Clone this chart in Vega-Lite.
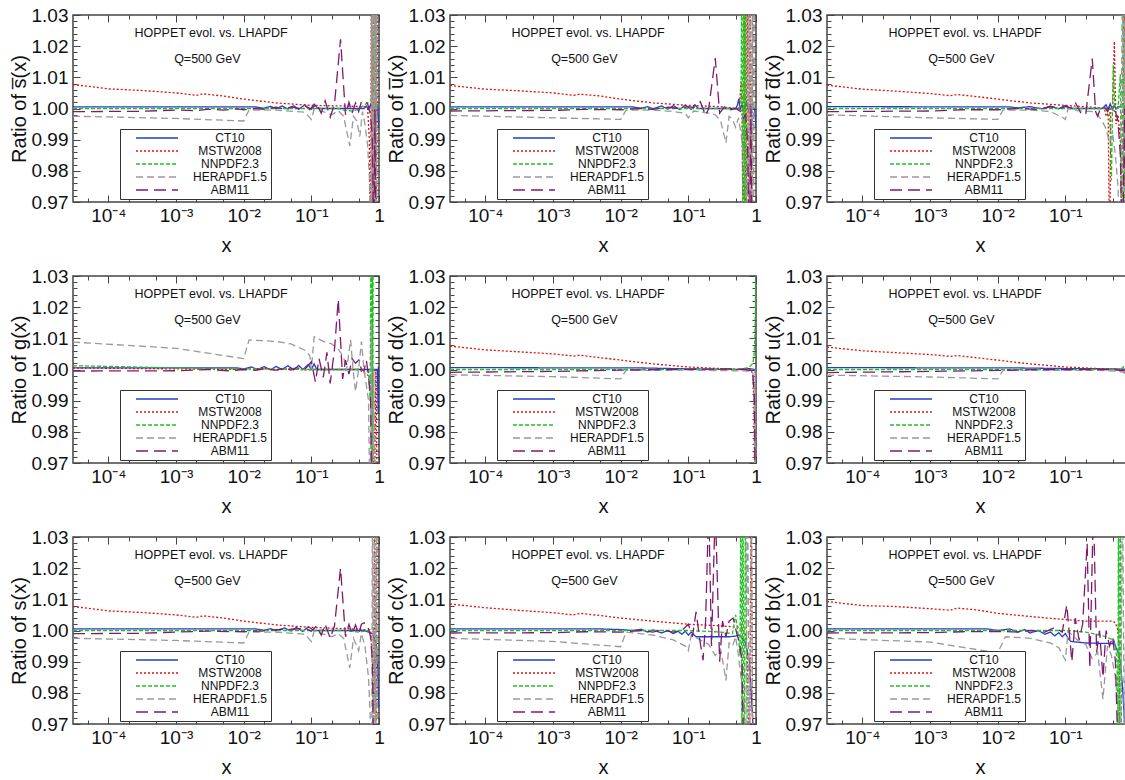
{
"$schema":"https://vega.github.io/schema/vega-lite/v6.json",
"padding":{"left":8,"top":5,"right":0,"bottom":0},
"columns":3,
"spacing":{"row":74,"column":71},
"bounds":"flush",
"resolve":{"scale":{"x":"independent","y":"independent","color":"independent","strokeDash":"independent","strokeWidth":"independent"},"axis":{"x":"independent","y":"independent"},"legend":{"color":"independent","strokeDash":"independent"}},
"datasets":{
"sb":[
{"s":"C","x":3e-5,"y":1.0005},{"s":"C","x":0.015,"y":1.0005},{"s":"C","x":0.02,"y":1.0001},{"s":"C","x":0.025,"y":1.0007},{"s":"C","x":0.03,"y":0.9999},{"s":"C","x":0.037,"y":1.0008},{"s":"C","x":0.045,"y":0.9998},{"s":"C","x":0.055,"y":1.0009},{"s":"C","x":0.065,"y":0.9997},{"s":"C","x":0.08,"y":1.0012},{"s":"C","x":0.095,"y":0.9996},{"s":"C","x":0.11,"y":1.0014},{"s":"C","x":0.125,"y":1.0},{"s":"C","x":0.6,"y":1.0},{"s":"C","x":0.65,"y":1.0008},{"s":"C","x":0.7,"y":0.9997},{"s":"C","x":0.75,"y":1.0012},{"s":"C","x":0.8,"y":0.9998},{"s":"C","x":0.85,"y":1.001},{"s":"C","x":0.9,"y":0.9995},{"s":"C","x":0.93,"y":1.0015},{"s":"C","x":0.96,"y":1.0},{"s":"C","x":0.98,"y":0.996},{"s":"C","x":1,"y":0.994},
{"s":"M","x":3e-5,"y":1.0077},{"s":"M","x":1e-4,"y":1.0063},{"s":"M","x":3e-4,"y":1.0058},{"s":"M","x":1e-3,"y":1.005},{"s":"M","x":2e-3,"y":1.0042},{"s":"M","x":2.5e-3,"y":1.0047},{"s":"M","x":5e-3,"y":1.004},{"s":"M","x":0.01,"y":1.003},{"s":"M","x":0.03,"y":1.0018},{"s":"M","x":0.1,"y":1.001},{"s":"M","x":0.3,"y":1.0008},{"s":"M","x":0.6,"y":1.0006},{"s":"M","x":0.68,"y":1.0},{"s":"M","x":0.72,"y":0.99},{"s":"M","x":0.75,"y":0.95},{"s":"M","x":0.77,"y":1.05},{"s":"M","x":0.8,"y":0.95},{"s":"M","x":0.83,"y":1.05},{"s":"M","x":0.86,"y":0.95},{"s":"M","x":0.89,"y":1.05},{"s":"M","x":0.92,"y":0.95},{"s":"M","x":0.95,"y":1.05},
{"s":"N","x":3e-5,"y":1.0},{"s":"N","x":0.25,"y":1.0},{"s":"N","x":0.3,"y":0.9995},{"s":"N","x":0.4,"y":0.9992},{"s":"N","x":0.5,"y":0.9998},{"s":"N","x":0.6,"y":1.001},{"s":"N","x":0.7,"y":1.002},{"s":"N","x":0.75,"y":1.0025},{"s":"N","x":0.8,"y":1.005},{"s":"N","x":0.83,"y":1.05},{"s":"N","x":0.86,"y":0.95},{"s":"N","x":0.9,"y":1.05},
{"s":"H","x":3e-5,"y":0.9975},{"s":"H","x":1e-4,"y":0.9973},{"s":"H","x":1e-3,"y":0.9968},{"s":"H","x":0.01,"y":0.996},{"s":"H","x":0.012,"y":0.9995},{"s":"H","x":0.03,"y":0.9995},{"s":"H","x":0.08,"y":0.9988},{"s":"H","x":0.1,"y":0.9965},{"s":"H","x":0.11,"y":0.9998},{"s":"H","x":0.15,"y":0.999},{"s":"H","x":0.2,"y":0.998},{"s":"H","x":0.25,"y":0.9993},{"s":"H","x":0.3,"y":0.9975},{"s":"H","x":0.37,"y":0.988},{"s":"H","x":0.42,"y":0.9975},{"s":"H","x":0.47,"y":0.996},{"s":"H","x":0.52,"y":0.991},{"s":"H","x":0.57,"y":0.999},{"s":"H","x":0.62,"y":0.995},{"s":"H","x":0.68,"y":0.988},{"s":"H","x":0.72,"y":0.978},{"s":"H","x":0.76,"y":0.95},{"s":"H","x":0.78,"y":1.05},{"s":"H","x":0.8,"y":0.95},{"s":"H","x":0.82,"y":1.05},{"s":"H","x":0.84,"y":0.95},{"s":"H","x":0.86,"y":1.05},{"s":"H","x":0.88,"y":0.95},{"s":"H","x":0.9,"y":1.05},{"s":"H","x":0.92,"y":0.95},{"s":"H","x":0.94,"y":1.05},
{"s":"A","x":3e-5,"y":0.999},{"s":"A","x":3e-4,"y":0.9991},{"s":"A","x":1e-3,"y":0.9995},{"s":"A","x":2e-3,"y":0.9993},{"s":"A","x":3e-3,"y":0.9998},{"s":"A","x":5e-3,"y":0.9995},{"s":"A","x":8e-3,"y":0.9999},{"s":"A","x":0.01,"y":0.9996},{"s":"A","x":0.015,"y":1.0},{"s":"A","x":0.02,"y":0.9997},{"s":"A","x":0.03,"y":1.0004},{"s":"A","x":0.04,"y":0.9998},{"s":"A","x":0.05,"y":1.0005},{"s":"A","x":0.065,"y":1.0},{"s":"A","x":0.08,"y":1.0008},{"s":"A","x":0.1,"y":0.9998},{"s":"A","x":0.12,"y":1.0015},{"s":"A","x":0.14,"y":0.9985},{"s":"A","x":0.16,"y":1.0025},{"s":"A","x":0.19,"y":0.9972},{"s":"A","x":0.22,"y":1.0015},{"s":"A","x":0.27,"y":1.0222},{"s":"A","x":0.32,"y":0.998},{"s":"A","x":0.36,"y":1.002},{"s":"A","x":0.4,"y":0.9985},{"s":"A","x":0.45,"y":1.0018},{"s":"A","x":0.5,"y":0.999},{"s":"A","x":0.55,"y":1.0022},{"s":"A","x":0.6,"y":1.0025},{"s":"A","x":0.68,"y":1.0015},{"s":"A","x":0.75,"y":0.998},{"s":"A","x":0.8,"y":0.99},{"s":"A","x":0.84,"y":0.95},{"s":"A","x":0.87,"y":1.0},{"s":"A","x":0.9,"y":0.95}
],
"ub":[
{"s":"C","x":3e-5,"y":1.0005},{"s":"C","x":0.015,"y":1.0005},{"s":"C","x":0.02,"y":1.0001},{"s":"C","x":0.025,"y":1.0006},{"s":"C","x":0.03,"y":0.9999},{"s":"C","x":0.04,"y":1.0008},{"s":"C","x":0.05,"y":0.9998},{"s":"C","x":0.06,"y":1.0009},{"s":"C","x":0.075,"y":0.9997},{"s":"C","x":0.09,"y":1.0011},{"s":"C","x":0.11,"y":0.9997},{"s":"C","x":0.125,"y":1.0012},{"s":"C","x":0.14,"y":1.0},{"s":"C","x":0.5,"y":1.0},{"s":"C","x":0.53,"y":1.001},{"s":"C","x":0.56,"y":1.0032},{"s":"C","x":0.58,"y":0.9995},{"s":"C","x":0.62,"y":1.0012},{"s":"C","x":0.66,"y":0.9998},{"s":"C","x":0.72,"y":1.002},{"s":"C","x":0.77,"y":0.9995},{"s":"C","x":0.82,"y":1.0008},{"s":"C","x":0.95,"y":1.0},{"s":"C","x":0.98,"y":0.997},{"s":"C","x":1,"y":0.994},
{"s":"M","x":3e-5,"y":1.0074},{"s":"M","x":1e-4,"y":1.0062},{"s":"M","x":3e-4,"y":1.0057},{"s":"M","x":1e-3,"y":1.005},{"s":"M","x":2e-3,"y":1.0042},{"s":"M","x":2.5e-3,"y":1.0046},{"s":"M","x":5e-3,"y":1.004},{"s":"M","x":0.01,"y":1.003},{"s":"M","x":0.03,"y":1.0018},{"s":"M","x":0.1,"y":1.001},{"s":"M","x":0.3,"y":1.0006},{"s":"M","x":0.5,"y":1.0},{"s":"M","x":0.57,"y":1.0},{"s":"M","x":0.6,"y":1.009},{"s":"M","x":0.62,"y":0.999},{"s":"M","x":0.65,"y":0.95},{"s":"M","x":0.68,"y":1.05},{"s":"M","x":0.71,"y":0.95},{"s":"M","x":0.74,"y":1.05},{"s":"M","x":0.78,"y":0.95},{"s":"M","x":0.82,"y":1.05},{"s":"M","x":0.86,"y":0.95},{"s":"M","x":0.9,"y":1.05},
{"s":"N","x":3e-5,"y":1.0},{"s":"N","x":0.55,"y":1.0},{"s":"N","x":0.6,"y":1.001},{"s":"N","x":0.62,"y":1.05},{"s":"N","x":0.64,"y":0.95},{"s":"N","x":0.66,"y":1.05},{"s":"N","x":0.68,"y":0.97},{"s":"N","x":0.7,"y":1.05},{"s":"N","x":0.73,"y":0.95},
{"s":"H","x":3e-5,"y":0.9978},{"s":"H","x":1e-3,"y":0.997},{"s":"H","x":0.01,"y":0.9965},{"s":"H","x":0.012,"y":0.9995},{"s":"H","x":0.03,"y":0.9995},{"s":"H","x":0.06,"y":0.999},{"s":"H","x":0.09,"y":0.9985},{"s":"H","x":0.1,"y":0.997},{"s":"H","x":0.12,"y":0.9992},{"s":"H","x":0.2,"y":0.9985},{"s":"H","x":0.25,"y":0.998},{"s":"H","x":0.3,"y":0.996},{"s":"H","x":0.36,"y":0.989},{"s":"H","x":0.4,"y":0.9975},{"s":"H","x":0.45,"y":0.9965},{"s":"H","x":0.5,"y":0.994},{"s":"H","x":0.55,"y":0.997},{"s":"H","x":0.6,"y":0.992},{"s":"H","x":0.65,"y":0.985},{"s":"H","x":0.7,"y":0.975},{"s":"H","x":0.75,"y":0.95},{"s":"H","x":0.78,"y":1.05},{"s":"H","x":0.8,"y":0.95},{"s":"H","x":0.83,"y":1.05},{"s":"H","x":0.86,"y":0.95},{"s":"H","x":0.89,"y":1.05},{"s":"H","x":0.92,"y":0.95},{"s":"H","x":0.95,"y":1.05},
{"s":"A","x":3e-5,"y":0.9992},{"s":"A","x":1e-3,"y":0.9994},{"s":"A","x":3e-3,"y":0.9997},{"s":"A","x":0.01,"y":0.9996},{"s":"A","x":0.02,"y":1.0},{"s":"A","x":0.03,"y":0.9997},{"s":"A","x":0.05,"y":1.0004},{"s":"A","x":0.07,"y":1.0},{"s":"A","x":0.1,"y":1.0006},{"s":"A","x":0.12,"y":1.0003},{"s":"A","x":0.15,"y":1.0022},{"s":"A","x":0.18,"y":0.9978},{"s":"A","x":0.2,"y":1.0},{"s":"A","x":0.25,"y":1.0162},{"s":"A","x":0.29,"y":0.9985},{"s":"A","x":0.34,"y":1.0005},{"s":"A","x":0.4,"y":0.9995},{"s":"A","x":0.5,"y":1.0},{"s":"A","x":0.6,"y":0.999},{"s":"A","x":0.65,"y":0.997},{"s":"A","x":0.7,"y":0.998},{"s":"A","x":0.75,"y":0.99},{"s":"A","x":0.8,"y":0.95},{"s":"A","x":0.84,"y":1.0},{"s":"A","x":0.88,"y":0.95}
],
"db":[
{"s":"C","x":3e-5,"y":1.0006},{"s":"C","x":0.015,"y":1.0005},{"s":"C","x":0.02,"y":1.0002},{"s":"C","x":0.03,"y":1.0006},{"s":"C","x":0.045,"y":0.9999},{"s":"C","x":0.06,"y":1.0008},{"s":"C","x":0.08,"y":0.9999},{"s":"C","x":0.1,"y":1.001},{"s":"C","x":0.12,"y":1.0},{"s":"C","x":0.35,"y":1.0},{"s":"C","x":0.4,"y":1.0012},{"s":"C","x":0.43,"y":0.9995},{"s":"C","x":0.46,"y":1.0015},{"s":"C","x":0.5,"y":0.9996},{"s":"C","x":0.53,"y":1.0012},{"s":"C","x":0.56,"y":0.9998},{"s":"C","x":0.6,"y":1.0006},{"s":"C","x":0.65,"y":1.0005},{"s":"C","x":1,"y":1.0005},
{"s":"M","x":3e-5,"y":1.0075},{"s":"M","x":1e-4,"y":1.0062},{"s":"M","x":3e-4,"y":1.0056},{"s":"M","x":1e-3,"y":1.0048},{"s":"M","x":2e-3,"y":1.0041},{"s":"M","x":2.5e-3,"y":1.0045},{"s":"M","x":5e-3,"y":1.0038},{"s":"M","x":0.01,"y":1.003},{"s":"M","x":0.03,"y":1.0018},{"s":"M","x":0.1,"y":1.001},{"s":"M","x":0.3,"y":1.0003},{"s":"M","x":0.38,"y":1.0},{"s":"M","x":0.4,"y":0.9975},{"s":"M","x":0.43,"y":0.9985},{"s":"M","x":0.45,"y":0.95},{"s":"M","x":0.47,"y":1.0},{"s":"M","x":0.5,"y":1.0},{"s":"M","x":0.53,"y":1.0215},{"s":"M","x":0.56,"y":0.995},{"s":"M","x":0.6,"y":0.998},{"s":"M","x":0.65,"y":0.99},{"s":"M","x":0.7,"y":0.95},{"s":"M","x":0.75,"y":1.05},{"s":"M","x":0.78,"y":0.95},{"s":"M","x":0.81,"y":1.05},{"s":"M","x":0.85,"y":0.95},
{"s":"N","x":3e-5,"y":1.0},{"s":"N","x":0.4,"y":1.0},{"s":"N","x":0.45,"y":1.0005},{"s":"N","x":0.48,"y":0.977},{"s":"N","x":0.51,"y":1.014},{"s":"N","x":0.54,"y":1.0},{"s":"N","x":0.6,"y":1.0},{"s":"N","x":0.65,"y":1.011},{"s":"N","x":0.68,"y":0.95},{"s":"N","x":0.72,"y":1.05},{"s":"N","x":0.76,"y":0.95},
{"s":"H","x":3e-5,"y":0.998},{"s":"H","x":1e-3,"y":0.997},{"s":"H","x":0.01,"y":0.9965},{"s":"H","x":0.012,"y":0.9995},{"s":"H","x":0.03,"y":0.9995},{"s":"H","x":0.06,"y":0.999},{"s":"H","x":0.09,"y":0.9972},{"s":"H","x":0.1,"y":0.9965},{"s":"H","x":0.11,"y":1.0},{"s":"H","x":0.15,"y":0.9993},{"s":"H","x":0.25,"y":0.999},{"s":"H","x":0.3,"y":0.998},{"s":"H","x":0.35,"y":0.996},{"s":"H","x":0.4,"y":0.9935},{"s":"H","x":0.45,"y":0.989},{"s":"H","x":0.5,"y":0.992},{"s":"H","x":0.55,"y":0.985},{"s":"H","x":0.6,"y":0.975},{"s":"H","x":0.65,"y":0.95},{"s":"H","x":0.7,"y":1.05},{"s":"H","x":0.73,"y":0.95},{"s":"H","x":0.76,"y":1.05},{"s":"H","x":0.8,"y":0.95},{"s":"H","x":0.84,"y":1.05},{"s":"H","x":0.88,"y":0.95},
{"s":"A","x":3e-5,"y":0.999},{"s":"A","x":1e-3,"y":0.9992},{"s":"A","x":3e-3,"y":0.9996},{"s":"A","x":0.01,"y":0.9996},{"s":"A","x":0.02,"y":1.0},{"s":"A","x":0.04,"y":0.9997},{"s":"A","x":0.06,"y":1.0005},{"s":"A","x":0.08,"y":1.0},{"s":"A","x":0.1,"y":1.0006},{"s":"A","x":0.12,"y":1.0002},{"s":"A","x":0.14,"y":1.002},{"s":"A","x":0.17,"y":0.9985},{"s":"A","x":0.2,"y":0.998},{"s":"A","x":0.25,"y":1.016},{"s":"A","x":0.28,"y":0.999},{"s":"A","x":0.3,"y":0.9975},{"s":"A","x":0.33,"y":1.0},{"s":"A","x":0.38,"y":1.0005},{"s":"A","x":0.42,"y":0.999},{"s":"A","x":0.45,"y":1.0008},{"s":"A","x":0.5,"y":0.9995},{"s":"A","x":0.55,"y":0.999},{"s":"A","x":0.6,"y":0.996},{"s":"A","x":0.65,"y":0.985},{"s":"A","x":0.7,"y":0.95},{"s":"A","x":0.75,"y":1.0},{"s":"A","x":0.8,"y":0.95}
],
"g":[
{"s":"C","x":3e-5,"y":1.0005},{"s":"C","x":0.008,"y":1.0005},{"s":"C","x":0.01,"y":1.0002},{"s":"C","x":0.013,"y":1.0008},{"s":"C","x":0.016,"y":1.0},{"s":"C","x":0.02,"y":1.0009},{"s":"C","x":0.025,"y":0.9999},{"s":"C","x":0.03,"y":1.001},{"s":"C","x":0.037,"y":1.0},{"s":"C","x":0.045,"y":1.0012},{"s":"C","x":0.055,"y":0.9999},{"s":"C","x":0.065,"y":1.0013},{"s":"C","x":0.075,"y":1.0},{"s":"C","x":0.09,"y":1.0016},{"s":"C","x":0.1,"y":1.0},{"s":"C","x":0.11,"y":1.0018},{"s":"C","x":0.12,"y":1.0},{"s":"C","x":0.95,"y":1.0},{"s":"C","x":0.97,"y":0.986},{"s":"C","x":0.98,"y":1.001},{"s":"C","x":0.99,"y":0.986},{"s":"C","x":1,"y":0.99},
{"s":"M","x":3e-5,"y":1.0005},{"s":"M","x":0.01,"y":1.0},{"s":"M","x":0.02,"y":1.0004},{"s":"M","x":0.03,"y":0.9998},{"s":"M","x":0.05,"y":1.0004},{"s":"M","x":0.08,"y":0.9998},{"s":"M","x":0.1,"y":1.0},{"s":"M","x":0.5,"y":1.0},{"s":"M","x":0.6,"y":0.999},{"s":"M","x":0.7,"y":0.998},{"s":"M","x":0.75,"y":0.9975},{"s":"M","x":0.8,"y":0.99},{"s":"M","x":0.85,"y":0.95},{"s":"M","x":0.9,"y":1.0},{"s":"M","x":0.95,"y":0.95},
{"s":"N","x":3e-5,"y":1.0012},{"s":"N","x":1e-4,"y":1.001},{"s":"N","x":1e-3,"y":1.0005},{"s":"N","x":0.01,"y":1.0002},{"s":"N","x":0.1,"y":1.0},{"s":"N","x":0.6,"y":1.0},{"s":"N","x":0.7,"y":0.9995},{"s":"N","x":0.74,"y":0.99},{"s":"N","x":0.76,"y":1.05},{"s":"N","x":0.77,"y":0.95},{"s":"N","x":0.78,"y":1.05},{"s":"N","x":0.79,"y":0.95},{"s":"N","x":0.8,"y":1.05},{"s":"N","x":0.81,"y":0.95},{"s":"N","x":0.82,"y":1.05},
{"s":"H","x":3e-5,"y":1.0088},{"s":"H","x":1e-3,"y":1.0068},{"s":"H","x":0.01,"y":1.0035},{"s":"H","x":0.012,"y":1.0095},{"s":"H","x":0.03,"y":1.009},{"s":"H","x":0.05,"y":1.0082},{"s":"H","x":0.08,"y":1.0062},{"s":"H","x":0.095,"y":1.0045},{"s":"H","x":0.1,"y":1.0},{"s":"H","x":0.11,"y":1.0105},{"s":"H","x":0.15,"y":1.009},{"s":"H","x":0.2,"y":1.0082},{"s":"H","x":0.25,"y":1.0065},{"s":"H","x":0.3,"y":1.004},{"s":"H","x":0.33,"y":0.9995},{"s":"H","x":0.38,"y":1.0095},{"s":"H","x":0.42,"y":0.9985},{"s":"H","x":0.45,"y":0.993},{"s":"H","x":0.5,"y":1.0},{"s":"H","x":0.55,"y":1.009},{"s":"H","x":0.6,"y":1.0},{"s":"H","x":0.65,"y":0.995},{"s":"H","x":0.7,"y":0.99},{"s":"H","x":0.74,"y":0.95},{"s":"H","x":0.77,"y":1.015},{"s":"H","x":0.8,"y":0.95},{"s":"H","x":0.84,"y":1.0},{"s":"H","x":0.88,"y":0.95},
{"s":"A","x":3e-5,"y":0.9995},{"s":"A","x":1e-3,"y":0.9996},{"s":"A","x":3e-3,"y":1.0},{"s":"A","x":6e-3,"y":0.9996},{"s":"A","x":0.01,"y":1.0},{"s":"A","x":0.015,"y":0.9997},{"s":"A","x":0.02,"y":1.0002},{"s":"A","x":0.03,"y":0.9998},{"s":"A","x":0.04,"y":1.0005},{"s":"A","x":0.05,"y":0.9998},{"s":"A","x":0.06,"y":1.0006},{"s":"A","x":0.08,"y":1.0},{"s":"A","x":0.1,"y":1.0025},{"s":"A","x":0.115,"y":0.996},{"s":"A","x":0.13,"y":1.0035},{"s":"A","x":0.15,"y":0.9975},{"s":"A","x":0.17,"y":1.0055},{"s":"A","x":0.19,"y":0.9955},{"s":"A","x":0.22,"y":1.0065},{"s":"A","x":0.25,"y":1.0225},{"s":"A","x":0.29,"y":0.997},{"s":"A","x":0.32,"y":1.003},{"s":"A","x":0.36,"y":0.9985},{"s":"A","x":0.4,"y":1.0035},{"s":"A","x":0.45,"y":1.002},{"s":"A","x":0.5,"y":1.003},{"s":"A","x":0.55,"y":1.0},{"s":"A","x":0.6,"y":0.9995},{"s":"A","x":0.65,"y":1.003},{"s":"A","x":0.7,"y":0.998},{"s":"A","x":0.75,"y":0.99},{"s":"A","x":0.8,"y":0.95}
],
"d":[
{"s":"C","x":3e-5,"y":1.0006},{"s":"C","x":0.02,"y":1.0005},{"s":"C","x":0.1,"y":1.0002},{"s":"C","x":0.5,"y":1.0},{"s":"C","x":0.8,"y":1.0003},{"s":"C","x":0.95,"y":1.0},{"s":"C","x":0.98,"y":0.999},{"s":"C","x":1,"y":0.999},
{"s":"M","x":3e-5,"y":1.0075},{"s":"M","x":1e-4,"y":1.0063},{"s":"M","x":3e-4,"y":1.0057},{"s":"M","x":1e-3,"y":1.005},{"s":"M","x":2e-3,"y":1.0043},{"s":"M","x":2.5e-3,"y":1.0046},{"s":"M","x":5e-3,"y":1.0038},{"s":"M","x":0.01,"y":1.003},{"s":"M","x":0.03,"y":1.0018},{"s":"M","x":0.1,"y":1.0008},{"s":"M","x":0.3,"y":1.0003},{"s":"M","x":0.6,"y":1.0},{"s":"M","x":0.85,"y":1.0},{"s":"M","x":0.9,"y":0.998},{"s":"M","x":0.93,"y":0.99},{"s":"M","x":0.95,"y":0.97},{"s":"M","x":0.97,"y":0.95},
{"s":"N","x":3e-5,"y":1.0},{"s":"N","x":0.6,"y":1.0},{"s":"N","x":0.8,"y":1.0008},{"s":"N","x":0.9,"y":1.002},{"s":"N","x":0.94,"y":1.005},{"s":"N","x":0.96,"y":1.01},{"s":"N","x":0.98,"y":1.02},{"s":"N","x":0.99,"y":1.035},
{"s":"H","x":3e-5,"y":0.9983},{"s":"H","x":1e-3,"y":0.9977},{"s":"H","x":0.01,"y":0.997},{"s":"H","x":0.012,"y":0.9997},{"s":"H","x":0.1,"y":0.9998},{"s":"H","x":0.5,"y":0.9996},{"s":"H","x":0.8,"y":0.9995},{"s":"H","x":0.9,"y":0.999},{"s":"H","x":0.93,"y":0.995},{"s":"H","x":0.95,"y":0.98},{"s":"H","x":0.96,"y":0.95},{"s":"H","x":0.97,"y":1.0},{"s":"H","x":0.98,"y":0.96},
{"s":"A","x":3e-5,"y":0.9991},{"s":"A","x":1e-3,"y":0.9994},{"s":"A","x":0.01,"y":0.9998},{"s":"A","x":0.05,"y":1.0},{"s":"A","x":0.5,"y":1.0002},{"s":"A","x":0.7,"y":1.0},{"s":"A","x":0.85,"y":0.9995},{"s":"A","x":0.9,"y":0.998},{"s":"A","x":0.95,"y":0.99},{"s":"A","x":0.97,"y":0.96}
],
"u":[
{"s":"C","x":3e-5,"y":1.0006},{"s":"C","x":0.02,"y":1.0005},{"s":"C","x":0.1,"y":1.0003},{"s":"C","x":0.5,"y":1.0002},{"s":"C","x":1,"y":1.0},
{"s":"M","x":3e-5,"y":1.0072},{"s":"M","x":1e-4,"y":1.006},{"s":"M","x":1e-3,"y":1.0048},{"s":"M","x":2e-3,"y":1.0042},{"s":"M","x":2.5e-3,"y":1.0045},{"s":"M","x":0.01,"y":1.003},{"s":"M","x":0.03,"y":1.0018},{"s":"M","x":0.1,"y":1.0008},{"s":"M","x":0.3,"y":1.0003},{"s":"M","x":0.7,"y":1.0},{"s":"M","x":0.9,"y":0.9995},{"s":"M","x":1,"y":0.997},
{"s":"N","x":3e-5,"y":1.0},{"s":"N","x":0.6,"y":1.0},{"s":"N","x":0.7,"y":1.0005},{"s":"N","x":0.8,"y":1.002},{"s":"N","x":0.85,"y":1.004},{"s":"N","x":0.9,"y":1.01},{"s":"N","x":0.95,"y":1.03},
{"s":"H","x":3e-5,"y":0.9982},{"s":"H","x":1e-3,"y":0.9976},{"s":"H","x":0.01,"y":0.997},{"s":"H","x":0.012,"y":0.9997},{"s":"H","x":0.3,"y":0.9997},{"s":"H","x":0.6,"y":0.9995},{"s":"H","x":0.75,"y":0.999},{"s":"H","x":0.85,"y":0.996},{"s":"H","x":0.9,"y":0.99},{"s":"H","x":0.95,"y":0.97},
{"s":"A","x":3e-5,"y":0.999},{"s":"A","x":1e-3,"y":0.9994},{"s":"A","x":0.01,"y":0.9997},{"s":"A","x":0.05,"y":1.0},{"s":"A","x":0.5,"y":1.0},{"s":"A","x":0.8,"y":0.9995},{"s":"A","x":0.88,"y":0.998},{"s":"A","x":0.93,"y":0.99},{"s":"A","x":0.98,"y":0.97}
],
"s":[
{"s":"C","x":3e-5,"y":1.0005},{"s":"C","x":0.015,"y":1.0005},{"s":"C","x":0.02,"y":1.0001},{"s":"C","x":0.025,"y":1.0006},{"s":"C","x":0.03,"y":0.9999},{"s":"C","x":0.04,"y":1.0008},{"s":"C","x":0.05,"y":0.9998},{"s":"C","x":0.06,"y":1.001},{"s":"C","x":0.075,"y":0.9997},{"s":"C","x":0.09,"y":1.0012},{"s":"C","x":0.11,"y":1.0},{"s":"C","x":0.6,"y":1.0},{"s":"C","x":0.7,"y":0.9995},{"s":"C","x":0.8,"y":0.999},{"s":"C","x":0.9,"y":0.996},{"s":"C","x":0.95,"y":0.99},{"s":"C","x":0.98,"y":0.978},{"s":"C","x":1,"y":0.975},
{"s":"M","x":3e-5,"y":1.0077},{"s":"M","x":1e-4,"y":1.0063},{"s":"M","x":3e-4,"y":1.0058},{"s":"M","x":1e-3,"y":1.005},{"s":"M","x":2e-3,"y":1.0042},{"s":"M","x":2.5e-3,"y":1.0047},{"s":"M","x":5e-3,"y":1.004},{"s":"M","x":0.01,"y":1.003},{"s":"M","x":0.03,"y":1.0018},{"s":"M","x":0.1,"y":1.001},{"s":"M","x":0.3,"y":1.0006},{"s":"M","x":0.6,"y":1.0003},{"s":"M","x":0.75,"y":1.0},{"s":"M","x":0.8,"y":0.99},{"s":"M","x":0.83,"y":0.95},{"s":"M","x":0.86,"y":1.05},{"s":"M","x":0.9,"y":0.95},{"s":"M","x":0.94,"y":1.05},
{"s":"N","x":3e-5,"y":1.0},{"s":"N","x":0.3,"y":1.0},{"s":"N","x":0.5,"y":0.9995},{"s":"N","x":0.7,"y":1.0},{"s":"N","x":0.8,"y":1.001},{"s":"N","x":0.85,"y":1.0},{"s":"N","x":0.88,"y":0.97},
{"s":"H","x":3e-5,"y":0.9975},{"s":"H","x":1e-3,"y":0.9968},{"s":"H","x":0.01,"y":0.996},{"s":"H","x":0.012,"y":0.9995},{"s":"H","x":0.03,"y":0.9995},{"s":"H","x":0.08,"y":0.9988},{"s":"H","x":0.1,"y":0.9965},{"s":"H","x":0.11,"y":0.9998},{"s":"H","x":0.2,"y":0.998},{"s":"H","x":0.25,"y":0.999},{"s":"H","x":0.3,"y":0.9975},{"s":"H","x":0.37,"y":0.988},{"s":"H","x":0.42,"y":0.9975},{"s":"H","x":0.5,"y":0.9935},{"s":"H","x":0.55,"y":0.999},{"s":"H","x":0.62,"y":0.995},{"s":"H","x":0.7,"y":0.985},{"s":"H","x":0.75,"y":0.97},{"s":"H","x":0.78,"y":0.95},{"s":"H","x":0.8,"y":1.05},{"s":"H","x":0.83,"y":0.95},{"s":"H","x":0.86,"y":1.05},{"s":"H","x":0.89,"y":0.95},{"s":"H","x":0.92,"y":1.05},{"s":"H","x":0.95,"y":0.95},
{"s":"A","x":3e-5,"y":0.999},{"s":"A","x":3e-4,"y":0.9991},{"s":"A","x":1e-3,"y":0.9995},{"s":"A","x":3e-3,"y":0.9998},{"s":"A","x":0.01,"y":0.9996},{"s":"A","x":0.02,"y":0.9999},{"s":"A","x":0.03,"y":1.0003},{"s":"A","x":0.05,"y":1.0004},{"s":"A","x":0.08,"y":1.0007},{"s":"A","x":0.1,"y":0.9998},{"s":"A","x":0.12,"y":1.0015},{"s":"A","x":0.14,"y":0.9985},{"s":"A","x":0.16,"y":1.002},{"s":"A","x":0.19,"y":0.9975},{"s":"A","x":0.22,"y":1.0015},{"s":"A","x":0.27,"y":1.02},{"s":"A","x":0.32,"y":0.998},{"s":"A","x":0.36,"y":1.002},{"s":"A","x":0.4,"y":0.9988},{"s":"A","x":0.45,"y":1.0018},{"s":"A","x":0.5,"y":0.999},{"s":"A","x":0.55,"y":1.002},{"s":"A","x":0.6,"y":1.0025},{"s":"A","x":0.68,"y":1.0015},{"s":"A","x":0.75,"y":0.998},{"s":"A","x":0.8,"y":0.99},{"s":"A","x":0.84,"y":0.95}
],
"c":[
{"s":"C","x":3e-5,"y":1.0005},{"s":"C","x":0.005,"y":1.0005},{"s":"C","x":0.01,"y":1.0003},{"s":"C","x":0.015,"y":1.0},{"s":"C","x":0.02,"y":1.0004},{"s":"C","x":0.025,"y":0.9995},{"s":"C","x":0.03,"y":1.0002},{"s":"C","x":0.04,"y":0.9992},{"s":"C","x":0.05,"y":1.0},{"s":"C","x":0.06,"y":0.999},{"s":"C","x":0.07,"y":0.9998},{"s":"C","x":0.08,"y":0.9988},{"s":"C","x":0.09,"y":0.9998},{"s":"C","x":0.1,"y":0.9985},{"s":"C","x":0.11,"y":0.9995},{"s":"C","x":0.13,"y":0.998},{"s":"C","x":0.4,"y":0.998},{"s":"C","x":0.5,"y":0.9982},{"s":"C","x":0.55,"y":0.9986},{"s":"C","x":0.6,"y":0.998},{"s":"C","x":0.7,"y":0.996},{"s":"C","x":0.8,"y":0.99},{"s":"C","x":0.85,"y":0.98},{"s":"C","x":0.9,"y":0.97},{"s":"C","x":0.93,"y":0.95},
{"s":"M","x":3e-5,"y":1.0085},{"s":"M","x":1e-4,"y":1.0073},{"s":"M","x":3e-4,"y":1.0065},{"s":"M","x":1e-3,"y":1.0057},{"s":"M","x":2e-3,"y":1.005},{"s":"M","x":2.5e-3,"y":1.0055},{"s":"M","x":5e-3,"y":1.0048},{"s":"M","x":0.01,"y":1.004},{"s":"M","x":0.03,"y":1.003},{"s":"M","x":0.1,"y":1.002},{"s":"M","x":0.3,"y":1.0015},{"s":"M","x":0.6,"y":1.001},{"s":"M","x":0.7,"y":0.999},{"s":"M","x":0.75,"y":0.99},{"s":"M","x":0.8,"y":0.95},{"s":"M","x":0.85,"y":1.05},{"s":"M","x":0.9,"y":0.95},
{"s":"N","x":3e-5,"y":1.0},{"s":"N","x":0.1,"y":1.0},{"s":"N","x":0.3,"y":0.9995},{"s":"N","x":0.45,"y":0.999},{"s":"N","x":0.5,"y":1.005},{"s":"N","x":0.55,"y":0.998},{"s":"N","x":0.58,"y":0.992},{"s":"N","x":0.6,"y":1.05},{"s":"N","x":0.62,"y":0.95},{"s":"N","x":0.64,"y":1.05},{"s":"N","x":0.67,"y":0.95},{"s":"N","x":0.7,"y":1.05},{"s":"N","x":0.75,"y":0.95},
{"s":"H","x":3e-5,"y":0.9975},{"s":"H","x":1e-3,"y":0.9965},{"s":"H","x":0.01,"y":0.9948},{"s":"H","x":0.012,"y":0.9995},{"s":"H","x":0.03,"y":0.9985},{"s":"H","x":0.06,"y":0.997},{"s":"H","x":0.09,"y":0.995},{"s":"H","x":0.1,"y":0.9935},{"s":"H","x":0.11,"y":0.9985},{"s":"H","x":0.15,"y":0.997},{"s":"H","x":0.2,"y":0.9955},{"s":"H","x":0.25,"y":0.992},{"s":"H","x":0.3,"y":0.994},{"s":"H","x":0.36,"y":0.984},{"s":"H","x":0.4,"y":0.996},{"s":"H","x":0.45,"y":0.995},{"s":"H","x":0.5,"y":0.998},{"s":"H","x":0.55,"y":0.992},{"s":"H","x":0.6,"y":0.985},{"s":"H","x":0.65,"y":0.975},{"s":"H","x":0.7,"y":0.95},{"s":"H","x":0.75,"y":1.05},{"s":"H","x":0.8,"y":0.95},{"s":"H","x":0.85,"y":1.05},{"s":"H","x":0.9,"y":0.95},
{"s":"A","x":3e-5,"y":0.9992},{"s":"A","x":1e-3,"y":0.9993},{"s":"A","x":3e-3,"y":0.9996},{"s":"A","x":0.01,"y":0.9995},{"s":"A","x":0.02,"y":1.0},{"s":"A","x":0.03,"y":0.9995},{"s":"A","x":0.04,"y":1.0002},{"s":"A","x":0.06,"y":0.9995},{"s":"A","x":0.08,"y":1.0},{"s":"A","x":0.1,"y":1.002},{"s":"A","x":0.115,"y":0.998},{"s":"A","x":0.13,"y":1.006},{"s":"A","x":0.15,"y":0.996},{"s":"A","x":0.165,"y":0.9905},{"s":"A","x":0.18,"y":1.003},{"s":"A","x":0.2,"y":1.04},{"s":"A","x":0.22,"y":0.995},{"s":"A","x":0.25,"y":1.04},{"s":"A","x":0.29,"y":0.99},{"s":"A","x":0.32,"y":1.003},{"s":"A","x":0.36,"y":0.998},{"s":"A","x":0.4,"y":1.003},{"s":"A","x":0.46,"y":1.004},{"s":"A","x":0.52,"y":0.999},{"s":"A","x":0.57,"y":0.996},{"s":"A","x":0.62,"y":0.99},{"s":"A","x":0.67,"y":0.95}
],
"b":[
{"s":"C","x":3e-5,"y":1.0005},{"s":"C","x":0.007,"y":1.0005},{"s":"C","x":0.01,"y":1.0},{"s":"C","x":0.015,"y":1.0005},{"s":"C","x":0.02,"y":0.9995},{"s":"C","x":0.025,"y":1.0003},{"s":"C","x":0.03,"y":0.9992},{"s":"C","x":0.04,"y":1.0},{"s":"C","x":0.05,"y":0.9988},{"s":"C","x":0.06,"y":0.9995},{"s":"C","x":0.07,"y":0.9983},{"s":"C","x":0.08,"y":0.9993},{"s":"C","x":0.09,"y":0.998},{"s":"C","x":0.1,"y":0.999},{"s":"C","x":0.11,"y":0.9975},{"s":"C","x":0.12,"y":0.9965},{"s":"C","x":0.2,"y":0.996},{"s":"C","x":0.5,"y":0.9958},{"s":"C","x":0.52,"y":0.9968},{"s":"C","x":0.55,"y":0.995},{"s":"C","x":0.6,"y":0.993},{"s":"C","x":0.65,"y":0.99},{"s":"C","x":0.7,"y":0.982},{"s":"C","x":0.75,"y":0.97},{"s":"C","x":0.8,"y":0.95},
{"s":"M","x":3e-5,"y":1.0093},{"s":"M","x":1e-4,"y":1.008},{"s":"M","x":3e-4,"y":1.0077},{"s":"M","x":1e-3,"y":1.007},{"s":"M","x":2e-3,"y":1.0065},{"s":"M","x":2.5e-3,"y":1.0072},{"s":"M","x":5e-3,"y":1.0066},{"s":"M","x":0.01,"y":1.0055},{"s":"M","x":0.03,"y":1.0045},{"s":"M","x":0.1,"y":1.0035},{"s":"M","x":0.2,"y":1.003},{"s":"M","x":0.5,"y":1.003},{"s":"M","x":0.55,"y":1.0025},{"s":"M","x":0.6,"y":1.0},{"s":"M","x":0.63,"y":0.99},{"s":"M","x":0.65,"y":0.95},
{"s":"N","x":3e-5,"y":1.0},{"s":"N","x":0.1,"y":1.0},{"s":"N","x":0.2,"y":0.9995},{"s":"N","x":0.4,"y":0.998},{"s":"N","x":0.5,"y":0.997},{"s":"N","x":0.55,"y":0.995},{"s":"N","x":0.58,"y":0.99},{"s":"N","x":0.6,"y":0.97},{"s":"N","x":0.61,"y":1.05},{"s":"N","x":0.63,"y":0.95},{"s":"N","x":0.65,"y":1.05},{"s":"N","x":0.68,"y":0.95},
{"s":"H","x":3e-5,"y":0.9975},{"s":"H","x":1e-3,"y":0.9963},{"s":"H","x":0.01,"y":0.9928},{"s":"H","x":0.013,"y":0.998},{"s":"H","x":0.03,"y":0.9975},{"s":"H","x":0.06,"y":0.996},{"s":"H","x":0.08,"y":0.9945},{"s":"H","x":0.1,"y":0.9905},{"s":"H","x":0.11,"y":0.9998},{"s":"H","x":0.15,"y":0.997},{"s":"H","x":0.2,"y":0.9955},{"s":"H","x":0.25,"y":0.991},{"s":"H","x":0.3,"y":0.993},{"s":"H","x":0.36,"y":0.978},{"s":"H","x":0.42,"y":0.995},{"s":"H","x":0.48,"y":0.992},{"s":"H","x":0.55,"y":0.985},{"s":"H","x":0.6,"y":0.975},{"s":"H","x":0.65,"y":0.95},{"s":"H","x":0.7,"y":1.05},{"s":"H","x":0.75,"y":0.95},{"s":"H","x":0.8,"y":1.05},{"s":"H","x":0.85,"y":0.95},
{"s":"A","x":3e-5,"y":0.9992},{"s":"A","x":1e-3,"y":0.9993},{"s":"A","x":3e-3,"y":0.9996},{"s":"A","x":0.01,"y":0.9997},{"s":"A","x":0.02,"y":0.9995},{"s":"A","x":0.03,"y":1.0},{"s":"A","x":0.05,"y":0.9995},{"s":"A","x":0.07,"y":1.001},{"s":"A","x":0.09,"y":0.9995},{"s":"A","x":0.105,"y":1.0082},{"s":"A","x":0.125,"y":0.99},{"s":"A","x":0.14,"y":1.004},{"s":"A","x":0.16,"y":0.997},{"s":"A","x":0.18,"y":1.002},{"s":"A","x":0.21,"y":1.028},{"s":"A","x":0.23,"y":0.988},{"s":"A","x":0.26,"y":1.04},{"s":"A","x":0.29,"y":0.993},{"s":"A","x":0.32,"y":1.0},{"s":"A","x":0.36,"y":0.985},{"s":"A","x":0.4,"y":1.0},{"s":"A","x":0.45,"y":0.995},{"s":"A","x":0.5,"y":0.998},{"s":"A","x":0.55,"y":0.99},{"s":"A","x":0.6,"y":0.96}
]
},
"concat":[
{"data":{"name":"sb"},"resolve":{"axis":{"x":"independent","y":"independent"}},"layer":[
{"mark":{"type":"line","clip":true},"encoding":{
"x":{"field":"x","type":"quantitative","scale":{"type":"log","domain":[3e-5,1],"nice":false},"axis":{"orient":"bottom","title":"x","values":[5e-5,1e-4,2e-4,5e-4,1e-3,2e-3,5e-3,0.01,0.02,0.05,0.1,0.2,0.5,1],"labelExpr":"datum.value==1e-4?'10⁻⁴':datum.value==1e-3?'10⁻³':datum.value==0.01?'10⁻²':datum.value==0.1?'10⁻¹':datum.value==1?'1':''","tickSize":{"condition":{"test":"datum.value==1e-4||datum.value==1e-3||datum.value==0.01||datum.value==0.1||datum.value==1","value":-7},"value":-4}}},
"y":{"field":"y","type":"quantitative","scale":{"domain":[0.97,1.03],"nice":false,"zero":false},"axis":{"orient":"left","title":"Ratio of s\u0305(x)","tickCount":30,"labelExpr":"abs(datum.value*100-round(datum.value*100))<0.001?format(datum.value,'.2f'):''","tickSize":{"condition":{"test":"abs(datum.value*100-round(datum.value*100))<0.001","value":-7},"value":-4}}},
"color":{"field":"s","type":"nominal","scale":{"domain":["C","M","N","H","A"],"range":["#1f3fd0","#e01010","#22c022","#999999","#801a6e"]},"legend":{"title":null,"orient":"none","legendX":47,"legendY":114,"symbolType":"M-4,0H4","labelExpr":"datum.label=='C'?'CT10':datum.label=='M'?'MSTW2008':datum.label=='N'?'NNPDF2.3':datum.label=='H'?'HERAPDF1.5':'ABM11'"}},
"strokeDash":{"field":"s","type":"nominal","scale":{"domain":["C","M","N","H","A"],"range":[[1,0],[2,2],[4,2],[7,4],[12,6]]},"legend":{"title":null,"orient":"none","legendX":47,"legendY":114,"symbolType":"M-4,0H4","labelExpr":"datum.label=='C'?'CT10':datum.label=='M'?'MSTW2008':datum.label=='N'?'NNPDF2.3':datum.label=='H'?'HERAPDF1.5':'ABM11'"}},
"strokeWidth":{"field":"s","type":"nominal","scale":{"domain":["C","M","N","H","A"],"range":[1.3,1.3,1.3,1.6,1.8]},"legend":null}}},
{"data":{"values":[{}]},"mark":{"type":"text","text":"HOPPET evol. vs. LHAPDF"},"encoding":{
"x":{"datum":0.0033,"type":"quantitative","scale":{"type":"log","domain":[3e-5,1],"nice":false},"axis":{"orient":"top","title":null,"labels":false,"values":[5e-5,1e-4,2e-4,5e-4,1e-3,2e-3,5e-3,0.01,0.02,0.05,0.1,0.2,0.5,1],"tickSize":{"condition":{"test":"datum.value==1e-4||datum.value==1e-3||datum.value==0.01||datum.value==0.1||datum.value==1","value":-7},"value":-4}}},
"y":{"datum":1.0242,"type":"quantitative","scale":{"domain":[0.97,1.03],"nice":false,"zero":false},"axis":{"orient":"right","title":null,"labels":false,"tickCount":30,"tickSize":{"condition":{"test":"abs(datum.value*100-round(datum.value*100))<0.001","value":-7},"value":-4}}}}},
{"data":{"values":[{}]},"mark":{"type":"text","text":"Q=500 GeV"},"encoding":{
"x":{"datum":0.0029,"type":"quantitative","scale":{"type":"log","domain":[3e-5,1],"nice":false},"axis":null},
"y":{"datum":1.0159,"type":"quantitative","scale":{"domain":[0.97,1.03],"nice":false,"zero":false},"axis":null}}}
]},
{"data":{"name":"ub"},"resolve":{"axis":{"x":"independent","y":"independent"}},"layer":[
{"mark":{"type":"line","clip":true},"encoding":{
"x":{"field":"x","type":"quantitative","scale":{"type":"log","domain":[3e-5,1],"nice":false},"axis":{"orient":"bottom","title":"x","values":[5e-5,1e-4,2e-4,5e-4,1e-3,2e-3,5e-3,0.01,0.02,0.05,0.1,0.2,0.5,1],"labelExpr":"datum.value==1e-4?'10⁻⁴':datum.value==1e-3?'10⁻³':datum.value==0.01?'10⁻²':datum.value==0.1?'10⁻¹':datum.value==1?'1':''","tickSize":{"condition":{"test":"datum.value==1e-4||datum.value==1e-3||datum.value==0.01||datum.value==0.1||datum.value==1","value":-7},"value":-4}}},
"y":{"field":"y","type":"quantitative","scale":{"domain":[0.97,1.03],"nice":false,"zero":false},"axis":{"orient":"left","title":"Ratio of u\u0305(x)","tickCount":30,"labelExpr":"abs(datum.value*100-round(datum.value*100))<0.001?format(datum.value,'.2f'):''","tickSize":{"condition":{"test":"abs(datum.value*100-round(datum.value*100))<0.001","value":-7},"value":-4}}},
"color":{"field":"s","type":"nominal","scale":{"domain":["C","M","N","H","A"],"range":["#1f3fd0","#e01010","#22c022","#999999","#801a6e"]},"legend":{"title":null,"orient":"none","legendX":47,"legendY":114,"symbolType":"M-4,0H4","labelExpr":"datum.label=='C'?'CT10':datum.label=='M'?'MSTW2008':datum.label=='N'?'NNPDF2.3':datum.label=='H'?'HERAPDF1.5':'ABM11'"}},
"strokeDash":{"field":"s","type":"nominal","scale":{"domain":["C","M","N","H","A"],"range":[[1,0],[2,2],[4,2],[7,4],[12,6]]},"legend":{"title":null,"orient":"none","legendX":47,"legendY":114,"symbolType":"M-4,0H4","labelExpr":"datum.label=='C'?'CT10':datum.label=='M'?'MSTW2008':datum.label=='N'?'NNPDF2.3':datum.label=='H'?'HERAPDF1.5':'ABM11'"}},
"strokeWidth":{"field":"s","type":"nominal","scale":{"domain":["C","M","N","H","A"],"range":[1.3,1.3,1.3,1.6,1.8]},"legend":null}}},
{"data":{"values":[{}]},"mark":{"type":"text","text":"HOPPET evol. vs. LHAPDF"},"encoding":{
"x":{"datum":0.0033,"type":"quantitative","scale":{"type":"log","domain":[3e-5,1],"nice":false},"axis":{"orient":"top","title":null,"labels":false,"values":[5e-5,1e-4,2e-4,5e-4,1e-3,2e-3,5e-3,0.01,0.02,0.05,0.1,0.2,0.5,1],"tickSize":{"condition":{"test":"datum.value==1e-4||datum.value==1e-3||datum.value==0.01||datum.value==0.1||datum.value==1","value":-7},"value":-4}}},
"y":{"datum":1.0242,"type":"quantitative","scale":{"domain":[0.97,1.03],"nice":false,"zero":false},"axis":{"orient":"right","title":null,"labels":false,"tickCount":30,"tickSize":{"condition":{"test":"abs(datum.value*100-round(datum.value*100))<0.001","value":-7},"value":-4}}}}},
{"data":{"values":[{}]},"mark":{"type":"text","text":"Q=500 GeV"},"encoding":{
"x":{"datum":0.0029,"type":"quantitative","scale":{"type":"log","domain":[3e-5,1],"nice":false},"axis":null},
"y":{"datum":1.0159,"type":"quantitative","scale":{"domain":[0.97,1.03],"nice":false,"zero":false},"axis":null}}}
]},
{"data":{"name":"db"},"resolve":{"axis":{"x":"independent","y":"independent"}},"layer":[
{"mark":{"type":"line","clip":true},"encoding":{
"x":{"field":"x","type":"quantitative","scale":{"type":"log","domain":[3e-5,1],"nice":false},"axis":{"orient":"bottom","title":"x","values":[5e-5,1e-4,2e-4,5e-4,1e-3,2e-3,5e-3,0.01,0.02,0.05,0.1,0.2,0.5,1],"labelExpr":"datum.value==1e-4?'10⁻⁴':datum.value==1e-3?'10⁻³':datum.value==0.01?'10⁻²':datum.value==0.1?'10⁻¹':datum.value==1?'1':''","tickSize":{"condition":{"test":"datum.value==1e-4||datum.value==1e-3||datum.value==0.01||datum.value==0.1||datum.value==1","value":-7},"value":-4}}},
"y":{"field":"y","type":"quantitative","scale":{"domain":[0.97,1.03],"nice":false,"zero":false},"axis":{"orient":"left","title":"Ratio of d\u0305(x)","tickCount":30,"labelExpr":"abs(datum.value*100-round(datum.value*100))<0.001?format(datum.value,'.2f'):''","tickSize":{"condition":{"test":"abs(datum.value*100-round(datum.value*100))<0.001","value":-7},"value":-4}}},
"color":{"field":"s","type":"nominal","scale":{"domain":["C","M","N","H","A"],"range":["#1f3fd0","#e01010","#22c022","#999999","#801a6e"]},"legend":{"title":null,"orient":"none","legendX":47,"legendY":114,"symbolType":"M-4,0H4","labelExpr":"datum.label=='C'?'CT10':datum.label=='M'?'MSTW2008':datum.label=='N'?'NNPDF2.3':datum.label=='H'?'HERAPDF1.5':'ABM11'"}},
"strokeDash":{"field":"s","type":"nominal","scale":{"domain":["C","M","N","H","A"],"range":[[1,0],[2,2],[4,2],[7,4],[12,6]]},"legend":{"title":null,"orient":"none","legendX":47,"legendY":114,"symbolType":"M-4,0H4","labelExpr":"datum.label=='C'?'CT10':datum.label=='M'?'MSTW2008':datum.label=='N'?'NNPDF2.3':datum.label=='H'?'HERAPDF1.5':'ABM11'"}},
"strokeWidth":{"field":"s","type":"nominal","scale":{"domain":["C","M","N","H","A"],"range":[1.3,1.3,1.3,1.6,1.8]},"legend":null}}},
{"data":{"values":[{}]},"mark":{"type":"text","text":"HOPPET evol. vs. LHAPDF"},"encoding":{
"x":{"datum":0.0033,"type":"quantitative","scale":{"type":"log","domain":[3e-5,1],"nice":false},"axis":{"orient":"top","title":null,"labels":false,"values":[5e-5,1e-4,2e-4,5e-4,1e-3,2e-3,5e-3,0.01,0.02,0.05,0.1,0.2,0.5,1],"tickSize":{"condition":{"test":"datum.value==1e-4||datum.value==1e-3||datum.value==0.01||datum.value==0.1||datum.value==1","value":-7},"value":-4}}},
"y":{"datum":1.0242,"type":"quantitative","scale":{"domain":[0.97,1.03],"nice":false,"zero":false},"axis":{"orient":"right","title":null,"labels":false,"tickCount":30,"tickSize":{"condition":{"test":"abs(datum.value*100-round(datum.value*100))<0.001","value":-7},"value":-4}}}}},
{"data":{"values":[{}]},"mark":{"type":"text","text":"Q=500 GeV"},"encoding":{
"x":{"datum":0.0029,"type":"quantitative","scale":{"type":"log","domain":[3e-5,1],"nice":false},"axis":null},
"y":{"datum":1.0159,"type":"quantitative","scale":{"domain":[0.97,1.03],"nice":false,"zero":false},"axis":null}}}
]},
{"data":{"name":"g"},"resolve":{"axis":{"x":"independent","y":"independent"}},"layer":[
{"mark":{"type":"line","clip":true},"encoding":{
"x":{"field":"x","type":"quantitative","scale":{"type":"log","domain":[3e-5,1],"nice":false},"axis":{"orient":"bottom","title":"x","values":[5e-5,1e-4,2e-4,5e-4,1e-3,2e-3,5e-3,0.01,0.02,0.05,0.1,0.2,0.5,1],"labelExpr":"datum.value==1e-4?'10⁻⁴':datum.value==1e-3?'10⁻³':datum.value==0.01?'10⁻²':datum.value==0.1?'10⁻¹':datum.value==1?'1':''","tickSize":{"condition":{"test":"datum.value==1e-4||datum.value==1e-3||datum.value==0.01||datum.value==0.1||datum.value==1","value":-7},"value":-4}}},
"y":{"field":"y","type":"quantitative","scale":{"domain":[0.97,1.03],"nice":false,"zero":false},"axis":{"orient":"left","title":"Ratio of g(x)","tickCount":30,"labelExpr":"abs(datum.value*100-round(datum.value*100))<0.001?format(datum.value,'.2f'):''","tickSize":{"condition":{"test":"abs(datum.value*100-round(datum.value*100))<0.001","value":-7},"value":-4}}},
"color":{"field":"s","type":"nominal","scale":{"domain":["C","M","N","H","A"],"range":["#1f3fd0","#e01010","#22c022","#999999","#801a6e"]},"legend":{"title":null,"orient":"none","legendX":47,"legendY":114,"symbolType":"M-4,0H4","labelExpr":"datum.label=='C'?'CT10':datum.label=='M'?'MSTW2008':datum.label=='N'?'NNPDF2.3':datum.label=='H'?'HERAPDF1.5':'ABM11'"}},
"strokeDash":{"field":"s","type":"nominal","scale":{"domain":["C","M","N","H","A"],"range":[[1,0],[2,2],[4,2],[7,4],[12,6]]},"legend":{"title":null,"orient":"none","legendX":47,"legendY":114,"symbolType":"M-4,0H4","labelExpr":"datum.label=='C'?'CT10':datum.label=='M'?'MSTW2008':datum.label=='N'?'NNPDF2.3':datum.label=='H'?'HERAPDF1.5':'ABM11'"}},
"strokeWidth":{"field":"s","type":"nominal","scale":{"domain":["C","M","N","H","A"],"range":[1.3,1.3,1.3,1.6,1.8]},"legend":null}}},
{"data":{"values":[{}]},"mark":{"type":"text","text":"HOPPET evol. vs. LHAPDF"},"encoding":{
"x":{"datum":0.0033,"type":"quantitative","scale":{"type":"log","domain":[3e-5,1],"nice":false},"axis":{"orient":"top","title":null,"labels":false,"values":[5e-5,1e-4,2e-4,5e-4,1e-3,2e-3,5e-3,0.01,0.02,0.05,0.1,0.2,0.5,1],"tickSize":{"condition":{"test":"datum.value==1e-4||datum.value==1e-3||datum.value==0.01||datum.value==0.1||datum.value==1","value":-7},"value":-4}}},
"y":{"datum":1.0242,"type":"quantitative","scale":{"domain":[0.97,1.03],"nice":false,"zero":false},"axis":{"orient":"right","title":null,"labels":false,"tickCount":30,"tickSize":{"condition":{"test":"abs(datum.value*100-round(datum.value*100))<0.001","value":-7},"value":-4}}}}},
{"data":{"values":[{}]},"mark":{"type":"text","text":"Q=500 GeV"},"encoding":{
"x":{"datum":0.0029,"type":"quantitative","scale":{"type":"log","domain":[3e-5,1],"nice":false},"axis":null},
"y":{"datum":1.0159,"type":"quantitative","scale":{"domain":[0.97,1.03],"nice":false,"zero":false},"axis":null}}}
]},
{"data":{"name":"d"},"resolve":{"axis":{"x":"independent","y":"independent"}},"layer":[
{"mark":{"type":"line","clip":true},"encoding":{
"x":{"field":"x","type":"quantitative","scale":{"type":"log","domain":[3e-5,1],"nice":false},"axis":{"orient":"bottom","title":"x","values":[5e-5,1e-4,2e-4,5e-4,1e-3,2e-3,5e-3,0.01,0.02,0.05,0.1,0.2,0.5,1],"labelExpr":"datum.value==1e-4?'10⁻⁴':datum.value==1e-3?'10⁻³':datum.value==0.01?'10⁻²':datum.value==0.1?'10⁻¹':datum.value==1?'1':''","tickSize":{"condition":{"test":"datum.value==1e-4||datum.value==1e-3||datum.value==0.01||datum.value==0.1||datum.value==1","value":-7},"value":-4}}},
"y":{"field":"y","type":"quantitative","scale":{"domain":[0.97,1.03],"nice":false,"zero":false},"axis":{"orient":"left","title":"Ratio of d(x)","tickCount":30,"labelExpr":"abs(datum.value*100-round(datum.value*100))<0.001?format(datum.value,'.2f'):''","tickSize":{"condition":{"test":"abs(datum.value*100-round(datum.value*100))<0.001","value":-7},"value":-4}}},
"color":{"field":"s","type":"nominal","scale":{"domain":["C","M","N","H","A"],"range":["#1f3fd0","#e01010","#22c022","#999999","#801a6e"]},"legend":{"title":null,"orient":"none","legendX":47,"legendY":114,"symbolType":"M-4,0H4","labelExpr":"datum.label=='C'?'CT10':datum.label=='M'?'MSTW2008':datum.label=='N'?'NNPDF2.3':datum.label=='H'?'HERAPDF1.5':'ABM11'"}},
"strokeDash":{"field":"s","type":"nominal","scale":{"domain":["C","M","N","H","A"],"range":[[1,0],[2,2],[4,2],[7,4],[12,6]]},"legend":{"title":null,"orient":"none","legendX":47,"legendY":114,"symbolType":"M-4,0H4","labelExpr":"datum.label=='C'?'CT10':datum.label=='M'?'MSTW2008':datum.label=='N'?'NNPDF2.3':datum.label=='H'?'HERAPDF1.5':'ABM11'"}},
"strokeWidth":{"field":"s","type":"nominal","scale":{"domain":["C","M","N","H","A"],"range":[1.3,1.3,1.3,1.6,1.8]},"legend":null}}},
{"data":{"values":[{}]},"mark":{"type":"text","text":"HOPPET evol. vs. LHAPDF"},"encoding":{
"x":{"datum":0.0033,"type":"quantitative","scale":{"type":"log","domain":[3e-5,1],"nice":false},"axis":{"orient":"top","title":null,"labels":false,"values":[5e-5,1e-4,2e-4,5e-4,1e-3,2e-3,5e-3,0.01,0.02,0.05,0.1,0.2,0.5,1],"tickSize":{"condition":{"test":"datum.value==1e-4||datum.value==1e-3||datum.value==0.01||datum.value==0.1||datum.value==1","value":-7},"value":-4}}},
"y":{"datum":1.0242,"type":"quantitative","scale":{"domain":[0.97,1.03],"nice":false,"zero":false},"axis":{"orient":"right","title":null,"labels":false,"tickCount":30,"tickSize":{"condition":{"test":"abs(datum.value*100-round(datum.value*100))<0.001","value":-7},"value":-4}}}}},
{"data":{"values":[{}]},"mark":{"type":"text","text":"Q=500 GeV"},"encoding":{
"x":{"datum":0.0029,"type":"quantitative","scale":{"type":"log","domain":[3e-5,1],"nice":false},"axis":null},
"y":{"datum":1.0159,"type":"quantitative","scale":{"domain":[0.97,1.03],"nice":false,"zero":false},"axis":null}}}
]},
{"data":{"name":"u"},"resolve":{"axis":{"x":"independent","y":"independent"}},"layer":[
{"mark":{"type":"line","clip":true},"encoding":{
"x":{"field":"x","type":"quantitative","scale":{"type":"log","domain":[3e-5,1],"nice":false},"axis":{"orient":"bottom","title":"x","values":[5e-5,1e-4,2e-4,5e-4,1e-3,2e-3,5e-3,0.01,0.02,0.05,0.1,0.2,0.5,1],"labelExpr":"datum.value==1e-4?'10⁻⁴':datum.value==1e-3?'10⁻³':datum.value==0.01?'10⁻²':datum.value==0.1?'10⁻¹':datum.value==1?'1':''","tickSize":{"condition":{"test":"datum.value==1e-4||datum.value==1e-3||datum.value==0.01||datum.value==0.1||datum.value==1","value":-7},"value":-4}}},
"y":{"field":"y","type":"quantitative","scale":{"domain":[0.97,1.03],"nice":false,"zero":false},"axis":{"orient":"left","title":"Ratio of u(x)","tickCount":30,"labelExpr":"abs(datum.value*100-round(datum.value*100))<0.001?format(datum.value,'.2f'):''","tickSize":{"condition":{"test":"abs(datum.value*100-round(datum.value*100))<0.001","value":-7},"value":-4}}},
"color":{"field":"s","type":"nominal","scale":{"domain":["C","M","N","H","A"],"range":["#1f3fd0","#e01010","#22c022","#999999","#801a6e"]},"legend":{"title":null,"orient":"none","legendX":47,"legendY":114,"symbolType":"M-4,0H4","labelExpr":"datum.label=='C'?'CT10':datum.label=='M'?'MSTW2008':datum.label=='N'?'NNPDF2.3':datum.label=='H'?'HERAPDF1.5':'ABM11'"}},
"strokeDash":{"field":"s","type":"nominal","scale":{"domain":["C","M","N","H","A"],"range":[[1,0],[2,2],[4,2],[7,4],[12,6]]},"legend":{"title":null,"orient":"none","legendX":47,"legendY":114,"symbolType":"M-4,0H4","labelExpr":"datum.label=='C'?'CT10':datum.label=='M'?'MSTW2008':datum.label=='N'?'NNPDF2.3':datum.label=='H'?'HERAPDF1.5':'ABM11'"}},
"strokeWidth":{"field":"s","type":"nominal","scale":{"domain":["C","M","N","H","A"],"range":[1.3,1.3,1.3,1.6,1.8]},"legend":null}}},
{"data":{"values":[{}]},"mark":{"type":"text","text":"HOPPET evol. vs. LHAPDF"},"encoding":{
"x":{"datum":0.0033,"type":"quantitative","scale":{"type":"log","domain":[3e-5,1],"nice":false},"axis":{"orient":"top","title":null,"labels":false,"values":[5e-5,1e-4,2e-4,5e-4,1e-3,2e-3,5e-3,0.01,0.02,0.05,0.1,0.2,0.5,1],"tickSize":{"condition":{"test":"datum.value==1e-4||datum.value==1e-3||datum.value==0.01||datum.value==0.1||datum.value==1","value":-7},"value":-4}}},
"y":{"datum":1.0242,"type":"quantitative","scale":{"domain":[0.97,1.03],"nice":false,"zero":false},"axis":{"orient":"right","title":null,"labels":false,"tickCount":30,"tickSize":{"condition":{"test":"abs(datum.value*100-round(datum.value*100))<0.001","value":-7},"value":-4}}}}},
{"data":{"values":[{}]},"mark":{"type":"text","text":"Q=500 GeV"},"encoding":{
"x":{"datum":0.0029,"type":"quantitative","scale":{"type":"log","domain":[3e-5,1],"nice":false},"axis":null},
"y":{"datum":1.0159,"type":"quantitative","scale":{"domain":[0.97,1.03],"nice":false,"zero":false},"axis":null}}}
]},
{"data":{"name":"s"},"resolve":{"axis":{"x":"independent","y":"independent"}},"layer":[
{"mark":{"type":"line","clip":true},"encoding":{
"x":{"field":"x","type":"quantitative","scale":{"type":"log","domain":[3e-5,1],"nice":false},"axis":{"orient":"bottom","title":"x","values":[5e-5,1e-4,2e-4,5e-4,1e-3,2e-3,5e-3,0.01,0.02,0.05,0.1,0.2,0.5,1],"labelExpr":"datum.value==1e-4?'10⁻⁴':datum.value==1e-3?'10⁻³':datum.value==0.01?'10⁻²':datum.value==0.1?'10⁻¹':datum.value==1?'1':''","tickSize":{"condition":{"test":"datum.value==1e-4||datum.value==1e-3||datum.value==0.01||datum.value==0.1||datum.value==1","value":-7},"value":-4}}},
"y":{"field":"y","type":"quantitative","scale":{"domain":[0.97,1.03],"nice":false,"zero":false},"axis":{"orient":"left","title":"Ratio of s(x)","tickCount":30,"labelExpr":"abs(datum.value*100-round(datum.value*100))<0.001?format(datum.value,'.2f'):''","tickSize":{"condition":{"test":"abs(datum.value*100-round(datum.value*100))<0.001","value":-7},"value":-4}}},
"color":{"field":"s","type":"nominal","scale":{"domain":["C","M","N","H","A"],"range":["#1f3fd0","#e01010","#22c022","#999999","#801a6e"]},"legend":{"title":null,"orient":"none","legendX":47,"legendY":114,"symbolType":"M-4,0H4","labelExpr":"datum.label=='C'?'CT10':datum.label=='M'?'MSTW2008':datum.label=='N'?'NNPDF2.3':datum.label=='H'?'HERAPDF1.5':'ABM11'"}},
"strokeDash":{"field":"s","type":"nominal","scale":{"domain":["C","M","N","H","A"],"range":[[1,0],[2,2],[4,2],[7,4],[12,6]]},"legend":{"title":null,"orient":"none","legendX":47,"legendY":114,"symbolType":"M-4,0H4","labelExpr":"datum.label=='C'?'CT10':datum.label=='M'?'MSTW2008':datum.label=='N'?'NNPDF2.3':datum.label=='H'?'HERAPDF1.5':'ABM11'"}},
"strokeWidth":{"field":"s","type":"nominal","scale":{"domain":["C","M","N","H","A"],"range":[1.3,1.3,1.3,1.6,1.8]},"legend":null}}},
{"data":{"values":[{}]},"mark":{"type":"text","text":"HOPPET evol. vs. LHAPDF"},"encoding":{
"x":{"datum":0.0033,"type":"quantitative","scale":{"type":"log","domain":[3e-5,1],"nice":false},"axis":{"orient":"top","title":null,"labels":false,"values":[5e-5,1e-4,2e-4,5e-4,1e-3,2e-3,5e-3,0.01,0.02,0.05,0.1,0.2,0.5,1],"tickSize":{"condition":{"test":"datum.value==1e-4||datum.value==1e-3||datum.value==0.01||datum.value==0.1||datum.value==1","value":-7},"value":-4}}},
"y":{"datum":1.0242,"type":"quantitative","scale":{"domain":[0.97,1.03],"nice":false,"zero":false},"axis":{"orient":"right","title":null,"labels":false,"tickCount":30,"tickSize":{"condition":{"test":"abs(datum.value*100-round(datum.value*100))<0.001","value":-7},"value":-4}}}}},
{"data":{"values":[{}]},"mark":{"type":"text","text":"Q=500 GeV"},"encoding":{
"x":{"datum":0.0029,"type":"quantitative","scale":{"type":"log","domain":[3e-5,1],"nice":false},"axis":null},
"y":{"datum":1.0159,"type":"quantitative","scale":{"domain":[0.97,1.03],"nice":false,"zero":false},"axis":null}}}
]},
{"data":{"name":"c"},"resolve":{"axis":{"x":"independent","y":"independent"}},"layer":[
{"mark":{"type":"line","clip":true},"encoding":{
"x":{"field":"x","type":"quantitative","scale":{"type":"log","domain":[3e-5,1],"nice":false},"axis":{"orient":"bottom","title":"x","values":[5e-5,1e-4,2e-4,5e-4,1e-3,2e-3,5e-3,0.01,0.02,0.05,0.1,0.2,0.5,1],"labelExpr":"datum.value==1e-4?'10⁻⁴':datum.value==1e-3?'10⁻³':datum.value==0.01?'10⁻²':datum.value==0.1?'10⁻¹':datum.value==1?'1':''","tickSize":{"condition":{"test":"datum.value==1e-4||datum.value==1e-3||datum.value==0.01||datum.value==0.1||datum.value==1","value":-7},"value":-4}}},
"y":{"field":"y","type":"quantitative","scale":{"domain":[0.97,1.03],"nice":false,"zero":false},"axis":{"orient":"left","title":"Ratio of c(x)","tickCount":30,"labelExpr":"abs(datum.value*100-round(datum.value*100))<0.001?format(datum.value,'.2f'):''","tickSize":{"condition":{"test":"abs(datum.value*100-round(datum.value*100))<0.001","value":-7},"value":-4}}},
"color":{"field":"s","type":"nominal","scale":{"domain":["C","M","N","H","A"],"range":["#1f3fd0","#e01010","#22c022","#999999","#801a6e"]},"legend":{"title":null,"orient":"none","legendX":47,"legendY":114,"symbolType":"M-4,0H4","labelExpr":"datum.label=='C'?'CT10':datum.label=='M'?'MSTW2008':datum.label=='N'?'NNPDF2.3':datum.label=='H'?'HERAPDF1.5':'ABM11'"}},
"strokeDash":{"field":"s","type":"nominal","scale":{"domain":["C","M","N","H","A"],"range":[[1,0],[2,2],[4,2],[7,4],[12,6]]},"legend":{"title":null,"orient":"none","legendX":47,"legendY":114,"symbolType":"M-4,0H4","labelExpr":"datum.label=='C'?'CT10':datum.label=='M'?'MSTW2008':datum.label=='N'?'NNPDF2.3':datum.label=='H'?'HERAPDF1.5':'ABM11'"}},
"strokeWidth":{"field":"s","type":"nominal","scale":{"domain":["C","M","N","H","A"],"range":[1.3,1.3,1.3,1.6,1.8]},"legend":null}}},
{"data":{"values":[{}]},"mark":{"type":"text","text":"HOPPET evol. vs. LHAPDF"},"encoding":{
"x":{"datum":0.0033,"type":"quantitative","scale":{"type":"log","domain":[3e-5,1],"nice":false},"axis":{"orient":"top","title":null,"labels":false,"values":[5e-5,1e-4,2e-4,5e-4,1e-3,2e-3,5e-3,0.01,0.02,0.05,0.1,0.2,0.5,1],"tickSize":{"condition":{"test":"datum.value==1e-4||datum.value==1e-3||datum.value==0.01||datum.value==0.1||datum.value==1","value":-7},"value":-4}}},
"y":{"datum":1.0242,"type":"quantitative","scale":{"domain":[0.97,1.03],"nice":false,"zero":false},"axis":{"orient":"right","title":null,"labels":false,"tickCount":30,"tickSize":{"condition":{"test":"abs(datum.value*100-round(datum.value*100))<0.001","value":-7},"value":-4}}}}},
{"data":{"values":[{}]},"mark":{"type":"text","text":"Q=500 GeV"},"encoding":{
"x":{"datum":0.0029,"type":"quantitative","scale":{"type":"log","domain":[3e-5,1],"nice":false},"axis":null},
"y":{"datum":1.0159,"type":"quantitative","scale":{"domain":[0.97,1.03],"nice":false,"zero":false},"axis":null}}}
]},
{"data":{"name":"b"},"resolve":{"axis":{"x":"independent","y":"independent"}},"layer":[
{"mark":{"type":"line","clip":true},"encoding":{
"x":{"field":"x","type":"quantitative","scale":{"type":"log","domain":[3e-5,1],"nice":false},"axis":{"orient":"bottom","title":"x","values":[5e-5,1e-4,2e-4,5e-4,1e-3,2e-3,5e-3,0.01,0.02,0.05,0.1,0.2,0.5,1],"labelExpr":"datum.value==1e-4?'10⁻⁴':datum.value==1e-3?'10⁻³':datum.value==0.01?'10⁻²':datum.value==0.1?'10⁻¹':datum.value==1?'1':''","tickSize":{"condition":{"test":"datum.value==1e-4||datum.value==1e-3||datum.value==0.01||datum.value==0.1||datum.value==1","value":-7},"value":-4}}},
"y":{"field":"y","type":"quantitative","scale":{"domain":[0.97,1.03],"nice":false,"zero":false},"axis":{"orient":"left","title":"Ratio of b(x)","tickCount":30,"labelExpr":"abs(datum.value*100-round(datum.value*100))<0.001?format(datum.value,'.2f'):''","tickSize":{"condition":{"test":"abs(datum.value*100-round(datum.value*100))<0.001","value":-7},"value":-4}}},
"color":{"field":"s","type":"nominal","scale":{"domain":["C","M","N","H","A"],"range":["#1f3fd0","#e01010","#22c022","#999999","#801a6e"]},"legend":{"title":null,"orient":"none","legendX":47,"legendY":114,"symbolType":"M-4,0H4","labelExpr":"datum.label=='C'?'CT10':datum.label=='M'?'MSTW2008':datum.label=='N'?'NNPDF2.3':datum.label=='H'?'HERAPDF1.5':'ABM11'"}},
"strokeDash":{"field":"s","type":"nominal","scale":{"domain":["C","M","N","H","A"],"range":[[1,0],[2,2],[4,2],[7,4],[12,6]]},"legend":{"title":null,"orient":"none","legendX":47,"legendY":114,"symbolType":"M-4,0H4","labelExpr":"datum.label=='C'?'CT10':datum.label=='M'?'MSTW2008':datum.label=='N'?'NNPDF2.3':datum.label=='H'?'HERAPDF1.5':'ABM11'"}},
"strokeWidth":{"field":"s","type":"nominal","scale":{"domain":["C","M","N","H","A"],"range":[1.3,1.3,1.3,1.6,1.8]},"legend":null}}},
{"data":{"values":[{}]},"mark":{"type":"text","text":"HOPPET evol. vs. LHAPDF"},"encoding":{
"x":{"datum":0.0033,"type":"quantitative","scale":{"type":"log","domain":[3e-5,1],"nice":false},"axis":{"orient":"top","title":null,"labels":false,"values":[5e-5,1e-4,2e-4,5e-4,1e-3,2e-3,5e-3,0.01,0.02,0.05,0.1,0.2,0.5,1],"tickSize":{"condition":{"test":"datum.value==1e-4||datum.value==1e-3||datum.value==0.01||datum.value==0.1||datum.value==1","value":-7},"value":-4}}},
"y":{"datum":1.0242,"type":"quantitative","scale":{"domain":[0.97,1.03],"nice":false,"zero":false},"axis":{"orient":"right","title":null,"labels":false,"tickCount":30,"tickSize":{"condition":{"test":"abs(datum.value*100-round(datum.value*100))<0.001","value":-7},"value":-4}}}}},
{"data":{"values":[{}]},"mark":{"type":"text","text":"Q=500 GeV"},"encoding":{
"x":{"datum":0.0029,"type":"quantitative","scale":{"type":"log","domain":[3e-5,1],"nice":false},"axis":null},
"y":{"datum":1.0159,"type":"quantitative","scale":{"domain":[0.97,1.03],"nice":false,"zero":false},"axis":null}}}
]}
],
"config":{
"font":"Liberation Sans",
"view":{"continuousWidth":306,"continuousHeight":187,"stroke":"#444","strokeWidth":1.5},
"axis":{"grid":false,"domain":false,"tickColor":"#444","tickWidth":1,"labelFont":"Liberation Sans","labelFontSize":19,"labelColor":"#111","titleFont":"Liberation Sans","titleFontSize":20,"titleFontWeight":"normal","titleColor":"#111","labelFlush":false,"labelOverlap":false},
"axisX":{"labelPadding":11,"titlePadding":7},
"axisY":{"labelPadding":12,"titlePadding":2},
"legend":{"padding":3,"fillColor":"white","strokeColor":"#333","labelFont":"Liberation Sans","labelFontSize":12,"labelColor":"#111","labelAlign":"center","labelOffset":67,"symbolSize":110,"symbolOffset":28,"symbolStrokeWidth":1.5,"rowPadding":1},
"text":{"font":"Liberation Sans","fontSize":12.5,"color":"#111"}
}
}
